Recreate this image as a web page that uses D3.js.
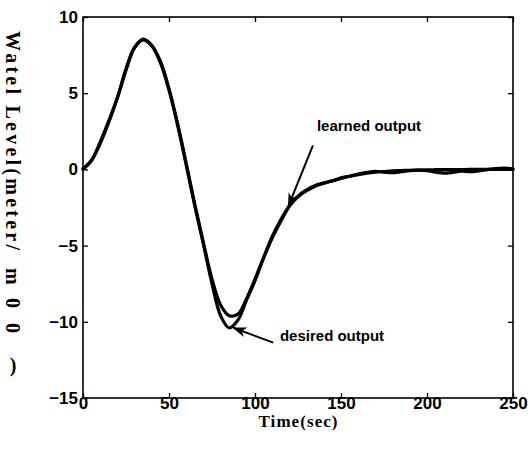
<!DOCTYPE html>
<html>
<head>
<meta charset="utf-8">
<script src="https://cdn.jsdelivr.net/npm/d3@7"></script>
<style>
  body { margin: 0; background: #fff; }
  svg { display: block; }
</style>
</head>
<body>
<script>
// Sample times (seconds)
const timeSec = [0, 5, 10, 15, 20, 25, 30, 35, 40, 45, 50, 55, 60, 65, 70, 75, 80, 85, 90, 95,
  100, 105, 110, 115, 120, 125, 130, 135, 140, 145, 150, 155, 160, 165, 170, 175, 180, 185, 190, 195,
  200, 205, 210, 215, 220, 225, 230, 235, 240, 245, 250];

// Target water level
const desiredOutput = [0, 0.6, 1.7, 3.1, 4.7, 6.6, 8.0, 8.5, 8.1, 7.0, 5.2, 2.9, 0.3, -2.4, -4.9, -7.5, -9.6, -10.4, -9.9, -8.6,
  -7.3, -5.8, -4.4, -3.3, -2.4, -1.8, -1.4, -1.1, -0.9, -0.75, -0.6, -0.45, -0.35, -0.25, -0.18, -0.14, -0.1, -0.08, -0.06, -0.04,
  -0.03, -0.02, -0.02, -0.01, -0.01, 0, 0, 0, 0, 0, 0];

// Network response after training
const learnedOutput = [0.05, 0.6, 1.8, 3.2, 4.7, 6.5, 8.0, 8.55, 8.15, 7.1, 5.3, 3.0, 0.4, -2.3, -4.8, -7.2, -8.9, -9.6, -9.5, -8.5,
  -7.2, -5.8, -4.5, -3.4, -2.4, -1.75, -1.35, -1.05, -0.9, -0.75, -0.55, -0.45, -0.3, -0.2, -0.12, -0.18, -0.22, -0.15, -0.08, -0.05,
  -0.08, -0.18, -0.25, -0.2, -0.12, -0.15, -0.1, -0.02, 0.05, 0.08, 0.04];

const xTicks = [0, 50, 100, 150, 200, 250];
const yTicks = [-15, -10, -5, 0, 5, 10];

// Annotation arrows: [tail time, tail level, head time, head level]
const learnedArrow = [133.7, 1.57, 119.4, -2.41];
const desiredArrow = [110.6, -11.37, 87.4, -10.39];

const W = 528, H = 449;
const plotLeft = 83, plotRight = 513, plotTop = 17, plotBottom = 398;

const svg = d3.select("body").append("svg").attr("width", W).attr("height", H);

const x = d3.scaleLinear().domain([0, 250]).range([plotLeft, plotRight]);
const y = d3.scaleLinear().domain([-15, 10]).range([plotBottom, plotTop]);

const sansFont = "'Liberation Sans', Arial, Helvetica, sans-serif";
const serifFont = "'Liberation Serif', 'Times New Roman', Times, serif";

// Axes with inward ticks on all four sides
function styleAxis(g) {
  g.select(".domain").remove();
  g.selectAll(".tick line").attr("stroke", "#000").attr("stroke-width", 1.3);
  g.selectAll(".tick text")
    .attr("fill", "#000")
    .style("font-family", sansFont)
    .style("font-weight", "bold")
    .style("font-size", "17px");
}

svg.append("g")
  .attr("transform", `translate(0,${plotBottom})`)
  .call(d3.axisBottom(x).tickValues(xTicks).tickSize(-5).tickSizeOuter(0).tickPadding(-1))
  .call(styleAxis);

svg.append("g")
  .attr("transform", `translate(0,${plotTop})`)
  .call(d3.axisTop(x).tickValues(xTicks).tickSize(-5).tickSizeOuter(0).tickFormat(""))
  .call(styleAxis);

svg.append("g")
  .attr("transform", `translate(${plotLeft},0)`)
  .call(d3.axisLeft(y).tickValues(yTicks).tickSize(-5).tickSizeOuter(0).tickPadding(5))
  .call(styleAxis);

svg.append("g")
  .attr("transform", `translate(${plotRight},0)`)
  .call(d3.axisRight(y).tickValues(yTicks).tickSize(-5).tickSizeOuter(0).tickFormat(""))
  .call(styleAxis);

// Plot frame
svg.append("rect")
  .attr("x", plotLeft).attr("y", plotTop)
  .attr("width", plotRight - plotLeft).attr("height", plotBottom - plotTop)
  .attr("fill", "none").attr("stroke", "#000").attr("stroke-width", 1.6);

// Response curves
const line = d3.line()
  .x((d, i) => x(timeSec[i]))
  .y(d => y(d))
  .curve(d3.curveCatmullRom.alpha(0.5));

[desiredOutput, learnedOutput].forEach(series => {
  svg.append("path")
    .datum(series)
    .attr("d", line)
    .attr("fill", "none")
    .attr("stroke", "#000")
    .attr("stroke-width", 3.2)
    .attr("stroke-linejoin", "round")
    .attr("stroke-linecap", "round");
});

// Arrow heads
svg.append("defs").append("marker")
  .attr("id", "arrowHead")
  .attr("viewBox", "0 0 14 10")
  .attr("refX", 13).attr("refY", 5)
  .attr("markerWidth", 14).attr("markerHeight", 10)
  .attr("markerUnits", "userSpaceOnUse")
  .attr("orient", "auto")
  .append("path")
  .attr("d", "M0,0 L14,5 L0,10 L4,5 Z")
  .attr("fill", "#000");

[learnedArrow, desiredArrow].forEach(a => {
  svg.append("line")
    .attr("x1", x(a[0])).attr("y1", y(a[1]))
    .attr("x2", x(a[2])).attr("y2", y(a[3]))
    .attr("stroke", "#000")
    .attr("stroke-width", 2)
    .attr("marker-end", "url(#arrowHead)");
});

// Annotation labels
svg.append("text")
  .attr("x", x(136)).attr("y", y(2.5))
  .style("font-family", sansFont).style("font-weight", "bold").style("font-size", "15px")
  .text("learned output");

svg.append("text")
  .attr("x", x(114.5)).attr("y", y(-11.25))
  .style("font-family", sansFont).style("font-weight", "bold").style("font-size", "15px")
  .text("desired output");

// Axis titles
svg.append("text")
  .attr("x", (plotLeft + plotRight) / 2).attr("y", 427)
  .attr("text-anchor", "middle")
  .attr("textLength", 79).attr("lengthAdjust", "spacing")
  .style("font-family", serifFont).style("font-weight", "bold").style("font-size", "17px")
  .text("Time(sec)");

const yTitle = svg.append("text")
  .attr("transform", "translate(6,31) rotate(90)")
  .style("font-family", serifFont).style("font-weight", "bold").style("font-size", "20px");
yTitle.append("tspan").attr("x", 0).attr("textLength", 219).attr("lengthAdjust", "spacing").text("Watel Level(meter/");
yTitle.append("tspan").attr("x", 237).text("m");
yTitle.append("tspan").attr("x", 267).text("0");
yTitle.append("tspan").attr("x", 292).text("0");

svg.append("text")
  .attr("x", 13).attr("y", 372)
  .attr("text-anchor", "middle")
  .style("font-family", serifFont).style("font-weight", "bold").style("font-size", "20px")
  .text(")");
</script>
</body>
</html>
